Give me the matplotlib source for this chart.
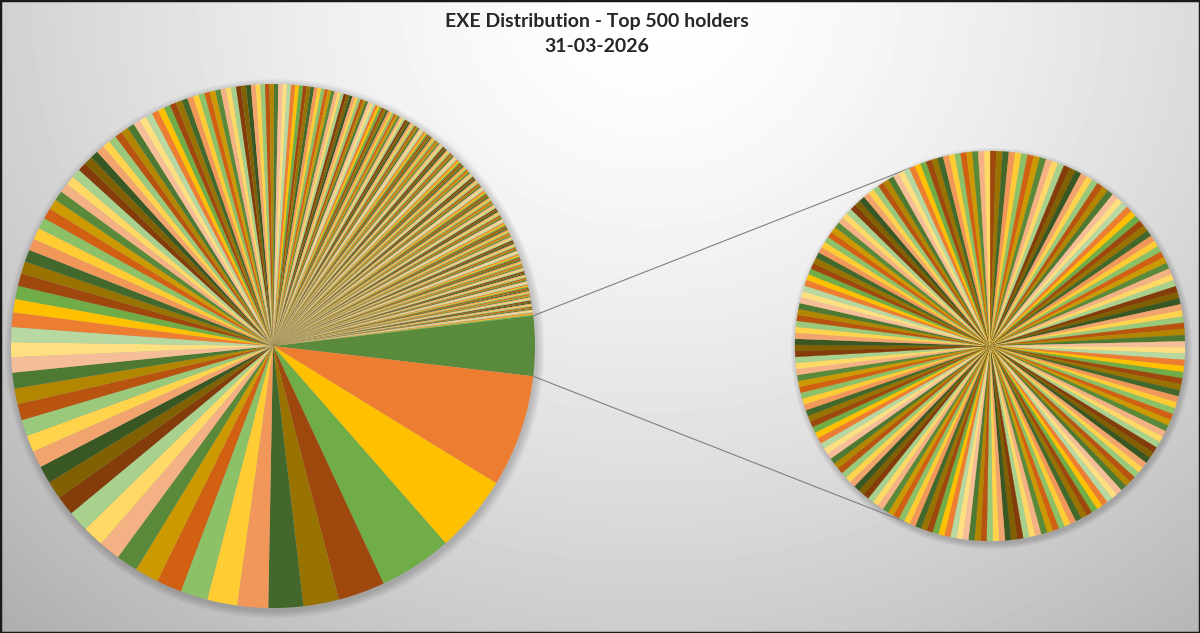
import colorsys
import numpy as np
import matplotlib
matplotlib.use("Agg")
import matplotlib.pyplot as plt
from matplotlib.patches import Circle, Rectangle
from matplotlib.colors import to_rgb

# share of the top 500 (%), holders 1..300 -> main pie
main_holders = [
    6.92, 4.78, 4.50, 2.89, 2.19, 2.14, 1.89, 1.86, 1.67, 1.56, 1.47, 1.33, 1.31, 1.31, 1.28,
    1.19, 1.11, 1.08, 1.03, 1.03, 1.00, 1.00, 0.97, 0.97, 0.94, 0.92, 0.92, 0.89, 0.83, 0.81,
    0.78, 0.75, 0.75, 0.72, 0.72, 0.69, 0.67, 0.64, 0.61, 0.58, 0.56, 0.56, 0.53, 0.53, 0.50,
    0.49, 0.48, 0.47, 0.46, 0.45, 0.44, 0.43, 0.43, 0.42, 0.41, 0.40, 0.39, 0.39, 0.38, 0.37,
    0.36, 0.36, 0.35, 0.34, 0.34, 0.33, 0.32, 0.32, 0.31, 0.31, 0.30, 0.30, 0.29, 0.29, 0.28, 0.28,
    0.27, 0.27, 0.26, 0.26, 0.25, 0.25, 0.24, 0.24, 0.23, 0.23, 0.22, 0.22, 0.22, 0.21, 0.21, 0.20,
    0.20, 0.20, 0.19, 0.19, 0.19, 0.18, 0.18, 0.18, 0.17, 0.17, 0.17, 0.16, 0.16, 0.16, 0.16, 0.15,
    0.15, 0.15, 0.15, 0.14, 0.14, 0.14, 0.14, 0.13, 0.13, 0.13, 0.13, 0.13, 0.12, 0.12, 0.12, 0.12,
    0.12, 0.12, 0.12, 0.11, 0.11, 0.11, 0.11, 0.11, 0.11, 0.11, 0.10, 0.10, 0.10, 0.10, 0.10, 0.10,
    0.100, 0.100, 0.100, 0.100, 0.099, 0.099, 0.099, 0.099, 0.098, 0.098, 0.098, 0.098, 0.097, 0.097, 0.097, 0.097,
    0.096, 0.096, 0.096, 0.096, 0.095, 0.095, 0.095, 0.095, 0.094, 0.094, 0.094, 0.094, 0.093, 0.093, 0.093, 0.093,
    0.092, 0.092, 0.092, 0.092, 0.091, 0.091, 0.091, 0.091, 0.090, 0.090, 0.090, 0.090, 0.089, 0.089, 0.089, 0.089,
    0.088, 0.088, 0.088, 0.088, 0.087, 0.087, 0.087, 0.087, 0.086, 0.086, 0.086, 0.086, 0.085, 0.085, 0.085, 0.085,
    0.084, 0.084, 0.084, 0.084, 0.083, 0.083, 0.083, 0.083, 0.082, 0.082, 0.082, 0.082, 0.081, 0.081, 0.081, 0.081,
    0.080, 0.080, 0.080, 0.080, 0.079, 0.079, 0.079, 0.079, 0.078, 0.078, 0.078, 0.078, 0.077, 0.077, 0.077, 0.077,
    0.076, 0.076, 0.076, 0.076, 0.075, 0.075, 0.075, 0.075, 0.074, 0.074, 0.074, 0.074, 0.073, 0.073, 0.073, 0.073,
    0.072, 0.072, 0.072, 0.072, 0.071, 0.071, 0.071, 0.071, 0.070, 0.070, 0.070, 0.070, 0.069, 0.069, 0.069, 0.069,
    0.068, 0.068, 0.068, 0.068, 0.067, 0.067, 0.067, 0.067, 0.066, 0.066, 0.066, 0.066, 0.065, 0.065, 0.065, 0.065,
    0.064, 0.064, 0.064, 0.064, 0.063, 0.063, 0.063, 0.063, 0.062, 0.062, 0.062, 0.062, 0.061, 0.061, 0.061, 0.061,
]

# holders 301..500 -> second pie ("Other" slice of the main pie)
small_holders = [
    0.0190, 0.0190, 0.0190, 0.0190, 0.0190, 0.0190, 0.0190, 0.0190, 0.0190, 0.0190,
    0.0190, 0.0190, 0.0190, 0.0190, 0.0190, 0.0190, 0.0190, 0.0190, 0.0190, 0.0190,
    0.0189, 0.0189, 0.0189, 0.0189, 0.0189, 0.0189, 0.0189, 0.0189, 0.0189, 0.0189,
    0.0188, 0.0188, 0.0188, 0.0188, 0.0188, 0.0188, 0.0188, 0.0188, 0.0188, 0.0188,
    0.0187, 0.0187, 0.0187, 0.0187, 0.0187, 0.0187, 0.0187, 0.0187, 0.0187, 0.0187,
    0.0186, 0.0186, 0.0186, 0.0186, 0.0186, 0.0186, 0.0186, 0.0186, 0.0186, 0.0186,
    0.0186, 0.0186, 0.0186, 0.0186, 0.0186, 0.0186, 0.0186, 0.0186, 0.0186, 0.0186,
    0.0185, 0.0185, 0.0185, 0.0185, 0.0185, 0.0185, 0.0185, 0.0185, 0.0185, 0.0185,
    0.0185, 0.0185, 0.0185, 0.0185, 0.0185, 0.0185, 0.0185, 0.0185, 0.0185, 0.0185,
    0.0184, 0.0184, 0.0184, 0.0184, 0.0184, 0.0184, 0.0184, 0.0184, 0.0184, 0.0184,
    0.0184, 0.0184, 0.0184, 0.0184, 0.0184, 0.0184, 0.0184, 0.0184, 0.0184, 0.0184,
    0.0183, 0.0183, 0.0183, 0.0183, 0.0183, 0.0183, 0.0183, 0.0183, 0.0183, 0.0183,
    0.0183, 0.0183, 0.0183, 0.0183, 0.0183, 0.0183, 0.0183, 0.0183, 0.0183, 0.0183,
    0.0182, 0.0182, 0.0182, 0.0182, 0.0182, 0.0182, 0.0182, 0.0182, 0.0182, 0.0182,
    0.0182, 0.0182, 0.0182, 0.0182, 0.0182, 0.0182, 0.0182, 0.0182, 0.0182, 0.0182,
    0.0181, 0.0181, 0.0181, 0.0181, 0.0181, 0.0181, 0.0181, 0.0181, 0.0181, 0.0181,
    0.0181, 0.0181, 0.0181, 0.0181, 0.0181, 0.0181, 0.0181, 0.0181, 0.0181, 0.0181,
    0.0180, 0.0180, 0.0180, 0.0180, 0.0180, 0.0180, 0.0180, 0.0180, 0.0180, 0.0180,
    0.0179, 0.0179, 0.0179, 0.0179, 0.0179, 0.0179, 0.0179, 0.0179, 0.0179, 0.0179,
    0.0178, 0.0178, 0.0178, 0.0178, 0.0178, 0.0178, 0.0178, 0.0178, 0.0178, 0.0178,
]

title = "EXE Distribution - Top 500 holders"
date = "31-03-2026"

# excel-like palette: 3 accents x 9 brightness variants
base = ["#ED7D31", "#FFC000", "#70AD47"]
variants = [(1.0, 0.0), (0.6, 0.0), (0.8, 0.2), (0.8, 0.0), (0.6, 0.4),
            (0.5, 0.0), (0.7, 0.3), (0.7, 0.0), (0.5, 0.5)]


def vary(c, mod, off):
    h, l, s = colorsys.rgb_to_hls(*to_rgb(c))
    return colorsys.hls_to_rgb(h, min(1.0, l * mod + off), s)


palette = [vary(c, m, o) for (m, o) in variants for c in base]
other_color = "#5A8A3C"

n_main = len(main_holders)
main_colors = [palette[i % len(palette)] for i in range(n_main)]
small_colors = [palette[(n_main + i) % len(palette)] for i in range(len(small_holders))]

other = sum(small_holders)
total = other + sum(main_holders)
half_other = 180.0 * other / total

W, H = 1200, 633
fig = plt.figure(figsize=(W / 100, H / 100), dpi=100)

# radial grey background
bg = fig.add_axes([0, 0, 1, 1])
yy, xx = np.mgrid[0:H, 0:W]
d = np.hypot(xx - 650, yy * 1.1)
g = np.clip(1 - 0.22 * (d / 740) ** 1.5, 0, 1)
bg.imshow(g, cmap="gray", vmin=0, vmax=1, aspect="auto", interpolation="bilinear")
bg.axis("off")

ax = fig.add_axes([0, 0, 1, 1])
ax.patch.set_alpha(0)

# pie geometry (data units, main radius = 1)
px = 262.0
c2 = (990 - 273) / px
r2 = 195 / px

for cx, r in [(0.0, 1.0), (c2, r2)]:
    for i in range(8):
        ax.add_patch(Circle((cx + 0.006, -0.01), r * (1.002 + 0.004 * i),
                            color="black", alpha=0.022, lw=0, zorder=0))

w1, _ = ax.pie([other] + main_holders, colors=[other_color] + main_colors,
               startangle=half_other, counterclock=False, radius=1.0, center=(0, 0),
               wedgeprops=dict(linewidth=0))
w2, _ = ax.pie(small_holders, colors=small_colors, startangle=90, counterclock=False,
               radius=r2, center=(c2, 0), wedgeprops=dict(linewidth=0.2))
for w in w2:
    w.set_edgecolor(w.get_facecolor())
for w in list(w1) + list(w2):
    w.set_zorder(2)

# connector lines from the "Other" slice to the second pie
a_top, a_bot = np.radians(half_other), np.radians(-half_other)
q_top, q_bot = np.radians(114), np.radians(-115)
ax.plot([np.cos(a_top), c2 + r2 * np.cos(q_top)], [np.sin(a_top), r2 * np.sin(q_top)],
        color="#808080", lw=0.8, zorder=1)
ax.plot([np.cos(a_bot), c2 + r2 * np.cos(q_bot)], [np.sin(a_bot), r2 * np.sin(q_bot)],
        color="#808080", lw=0.8, zorder=1)

ax.set_aspect("auto")
ax.set_xlim(-273 / px, (W - 273) / px)
ax.set_ylim(-(H - 346) / px, 346 / px)
ax.axis("off")

fig.text(0.4975, 1 - 22 / H, title, ha="center", va="center", fontsize=14,
         fontweight="bold", family="Lato", color="#262626")
fig.text(0.4975, 1 - 47 / H, date, ha="center", va="center", fontsize=14,
         fontweight="bold", family="Lato", color="#262626")

fig.patches.append(Rectangle((0, 0), 1, 1, transform=fig.transFigure, fill=False,
                             edgecolor="#1a1a1a", lw=2.5))

plt.savefig("out.png", dpi=100)
